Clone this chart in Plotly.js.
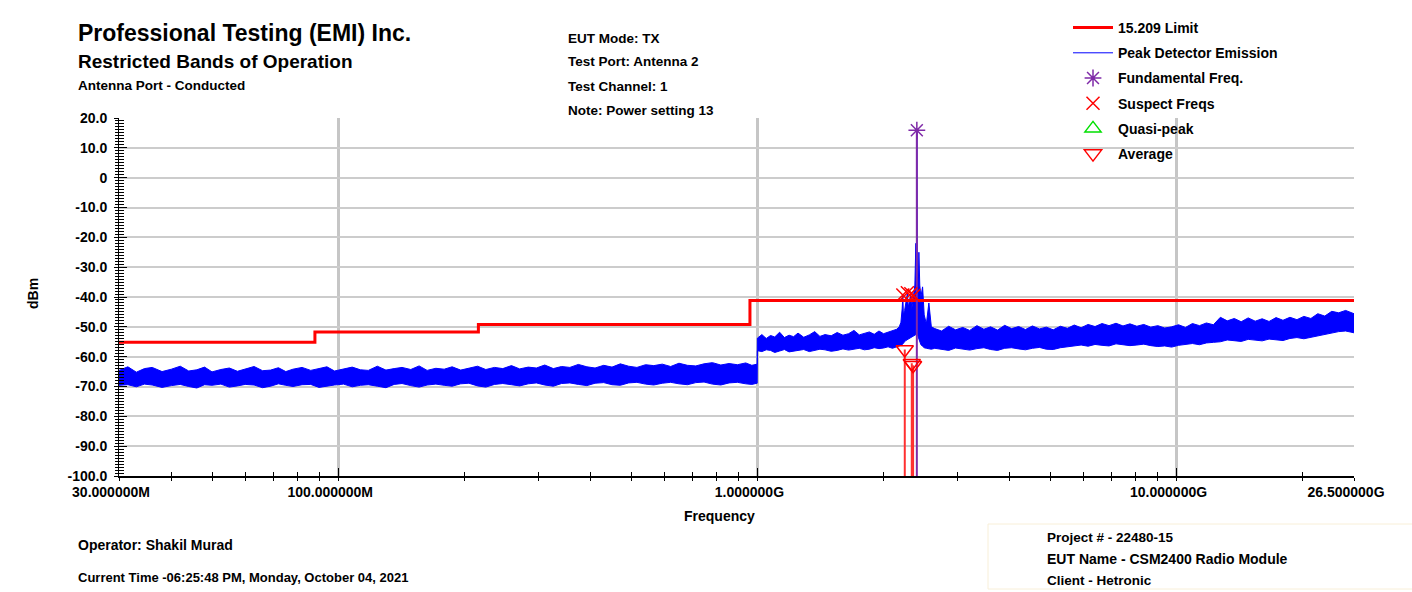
<!DOCTYPE html>
<html><head><meta charset="utf-8">
<script src="https://cdn.plot.ly/plotly-3.0.1.min.js"></script>
<style>html,body{margin:0;padding:0;background:#fff}#chart{width:1412px;height:592px}</style>
</head><body><div id="chart"></div>
<script>
// ---------------- DATA ----------------
// Peak detector trace, read as an upper / lower envelope of the noise band (frequency in MHz, level in dBm)
const freqBelow1G = [30,31.5,33,34.5,36,38,40,42,44,46,48,50,52.5,55,57.5,60,63,66,69,72,75,78,82,86,90,94,98,103,108,113,118,124,130,136,142,149,156,163,171,179,187,196,205,215,225,236,247,259,271,284,297,311,326,341,357,374,392,410,430,450,471,493,516,541,566,593,621,650,681,713,746,781,818,856,896,938,970,999];
const hiBelow1G = [-64.6,-63.4,-65.2,-64.0,-63.6,-65.0,-64.2,-63.2,-64.8,-64.4,-63.5,-65.1,-64.3,-63.8,-64.9,-64.1,-63.3,-64.7,-64.5,-63.7,-65.0,-64.2,-63.6,-64.6,-64.0,-63.4,-64.8,-64.2,-63.5,-64.4,-64.6,-63.2,-64.5,-64.0,-63.6,-64.3,-63.1,-64.6,-63.9,-64.2,-63.4,-64.5,-63.8,-63.2,-64.3,-63.6,-64.0,-63.0,-64.1,-63.5,-63.8,-62.8,-64.0,-63.3,-63.6,-62.6,-63.4,-63.8,-62.9,-63.5,-62.4,-63.2,-63.6,-62.7,-63.0,-62.5,-63.3,-62.2,-62.9,-63.1,-62.4,-62.0,-62.8,-62.3,-62.7,-62.1,-62.9,-62.5];
const loBelow1G = [-69.6,-69.4,-70.1,-69.2,-69.5,-70.3,-69.7,-69.3,-70.0,-70.5,-69.4,-69.6,-69.2,-70.2,-69.8,-69.3,-69.5,-70.4,-69.9,-69.1,-69.6,-70.0,-69.4,-69.3,-70.3,-69.8,-69.5,-69.2,-70.1,-69.6,-69.4,-69.9,-70.4,-69.3,-69.0,-69.7,-70.2,-69.5,-69.2,-69.6,-69.9,-69.1,-68.9,-69.8,-70.2,-69.3,-69.0,-69.4,-69.8,-69.1,-68.8,-69.5,-69.9,-69.0,-68.8,-69.3,-69.7,-68.9,-68.7,-69.4,-69.6,-68.8,-68.6,-69.2,-69.5,-68.9,-68.6,-69.1,-69.4,-68.7,-68.5,-69.2,-69.5,-68.8,-68.6,-69.1,-69.3,-68.9];

const freq1to2G = [1000,1025,1050,1075,1100,1130,1160,1190,1220,1250,1290,1330,1370,1410,1450,1500,1550,1600,1650,1700,1750,1800,1850,1900,1950,2000,2050,2100,2150];
const hi1to2G = [-53.8,-52.6,-53.9,-52.9,-53.4,-51.8,-53.6,-52.8,-53.3,-52.1,-53.5,-52.7,-51.6,-53.2,-52.6,-53.0,-51.9,-52.8,-52.3,-51.2,-52.7,-52.2,-51.7,-52.5,-51.4,-52.3,-51.8,-51.1,-50.8];
const lo1to2G = [-58.0,-58.3,-57.7,-57.9,-58.6,-58.1,-57.6,-58.4,-58.2,-57.8,-57.6,-58.3,-58.0,-57.5,-57.7,-58.2,-57.9,-57.4,-57.8,-57.6,-57.2,-57.7,-57.5,-57.0,-57.3,-57.1,-56.7,-57.2,-56.8];

const freqCarrier = [2180,2200,2215,2223,2230,2245,2260,2279,2290,2305,2323,2335,2350,2362,2375,2388,2395,2401,2408,2420,2428,2440,2455,2478,2500,2530,2565,2600];
const hiCarrier = [-50.0,-48.5,-44.0,-39.5,-46.0,-44.5,-42.0,-38.8,-43.5,-41.0,-39.0,-44.0,-41.0,-39.5,-36.0,-22.0,-34.0,15.5,-33.0,-38.0,-25.0,-36.0,-40.0,-36.6,-46.0,-49.0,-42.0,-50.0];
const loCarrier = [-56.5,-56.2,-56.0,-55.6,-55.4,-55.0,-54.6,-54.3,-54.0,-53.8,-53.6,-53.4,-53.2,-53.0,-52.8,-52.6,-52.4,-52.4,-52.6,-53.5,-54.5,-55.5,-56.0,-56.5,-57.0,-57.2,-57.4,-57.5];

const freqAbove = [2650,2750,2860,2970,3090,3210,3340,3470,3600,3740,3890,4040,4200,4360,4530,4710,4890,5080,5280,5490,5700,5920,6150,6390,6640,6900,7170,7450,7740,8040,8350,8680,9020,9370,9730,10110,10500,10910,11340,11780,12240,12720,13210,13730,14260,14820,15400,16000,16620,17270,17940,18640,19370,20120,20910,21720,22570,23450,24360,25310,26500];
const hiAbove = [-50.6,-51.4,-49.8,-51.0,-50.2,-51.2,-49.6,-50.8,-50.0,-51.1,-49.5,-50.6,-49.9,-50.9,-49.7,-50.7,-50.1,-51.0,-49.8,-50.5,-49.4,-50.3,-49.2,-49.9,-48.9,-49.6,-48.8,-49.7,-49.0,-49.8,-49.2,-50.1,-49.6,-50.4,-50.0,-49.3,-50.2,-48.9,-49.6,-48.7,-49.3,-46.8,-48.0,-47.2,-48.3,-47.0,-48.1,-47.3,-48.2,-46.9,-47.8,-46.8,-47.6,-46.5,-47.2,-45.6,-46.4,-44.8,-45.3,-44.5,-45.6];
const loAbove = [-57.2,-57.5,-57.9,-57.1,-57.4,-57.8,-57.3,-57.0,-57.6,-57.9,-57.2,-57.0,-57.4,-57.7,-57.2,-56.9,-57.5,-57.6,-57.0,-56.7,-56.4,-56.1,-56.5,-55.9,-56.2,-56.4,-55.7,-55.9,-56.3,-56.1,-55.8,-56.3,-56.6,-56.4,-56.8,-56.2,-55.8,-55.6,-56.0,-55.4,-55.2,-55.0,-54.4,-54.6,-54.9,-54.2,-54.4,-54.7,-54.1,-54.3,-54.6,-53.9,-53.6,-54.0,-53.5,-52.9,-52.6,-52.0,-51.6,-51.4,-52.0];

// 15.209 limit: band edges (MHz) and level per band (dBm)
const limitEdgesMHz = [30, 88, 216, 960, 26500];
const limitLevels = [-55.2, -51.7, -49.2, -41.2];

// markers
const fundFreq = [2401], fundLevel = [15.9];
const suspectFreq = [2223, 2279, 2323, 2362], suspectLevel = [-39.3, -38.6, -38.9, -39.5];
const qpFreq = [], qpLevel = [];
const avgFreq = [2247, 2335, 2352], avgLevel = [-57.6, -62.2, -62.9];
const floorLevel = -100;

// axes
const xTickVals = [30, 100, 1000, 10000, 26500];
const xTickText = ['30.000000M', '100.000000M', '1.000000G', '10.000000G', '26.500000G'];
const xMinorVals = [40,50,60,70,80,90,200,300,400,500,600,700,800,900,2000,3000,4000,5000,6000,7000,8000,9000,20000];
const yTickVals = [20,10,0,-10,-20,-30,-40,-50,-60,-70,-80,-90,-100];
const yTickText = ['20.0','10.0','0','-10.0','-20.0','-30.0','-40.0','-50.0','-60.0','-70.0','-80.0','-90.0','-100.0'];

// texts
const headerLines = ['Professional Testing (EMI) Inc.', 'Restricted Bands of Operation', 'Antenna Port - Conducted'];
const testLines = ['EUT Mode: TX', 'Test Port: Antenna 2', 'Test Channel: 1', 'Note: Power setting 13'];
const operatorLines = ['Operator: Shakil Murad', 'Current Time -06:25:48 PM, Monday, October 04, 2021'];
const projectLines = ['Project # - 22480-15', 'EUT Name - CSM2400 Radio Module', 'Client - Hetronic'];

// ---------------- BUILD ----------------
const freqAll = freqBelow1G.concat(freq1to2G, freqCarrier, freqAbove);
const hiAll = hiBelow1G.concat(hi1to2G, hiCarrier, hiAbove);
const loAll = loBelow1G.concat(lo1to2G, loCarrier, loAbove);

const FONT = 'Arial, "Liberation Sans", sans-serif';
const BLUE = '#0000ff', RED = '#ff0000', PURPLE = '#7f2aa8';

function stems(fs, vs) {
  const x = [], y = [];
  fs.forEach((f, i) => { x.push(f, f, null); y.push(vs[i], floorLevel, null); });
  return {x, y};
}
const avgStems = stems(avgFreq, avgLevel);
const fundStems = stems(fundFreq, fundLevel);

const traces = [
  {x: freqAll, y: loAll, mode: 'lines', line: {color: BLUE, width: 1}, showlegend: false, hoverinfo: 'skip'},
  {x: freqAll, y: hiAll, mode: 'lines', line: {color: BLUE, width: 1}, fill: 'tonexty', fillcolor: BLUE, showlegend: false, hoverinfo: 'skip'},
  {x: limitEdgesMHz, y: limitLevels.concat([limitLevels[limitLevels.length - 1]]), mode: 'lines', line: {color: RED, width: 3, shape: 'hv'}, name: '15.209 Limit', legendgroup: 'g1'},
  {x: [null], y: [null], mode: 'lines', line: {color: BLUE, width: 1}, name: 'Peak Detector Emission', legendgroup: 'g2'},
  {x: fundStems.x, y: fundStems.y, mode: 'lines', line: {color: PURPLE, width: 2}, showlegend: false, hoverinfo: 'skip'},
  {x: avgStems.x, y: avgStems.y, mode: 'lines', line: {color: '#ff3030', width: 2}, showlegend: false, hoverinfo: 'skip'},
  {x: fundFreq, y: fundLevel, mode: 'markers', marker: {symbol: 'asterisk-open', size: 14, color: PURPLE, line: {color: PURPLE, width: 1.5}}, name: 'Fundamental Freq.', legendgroup: 'g3'},
  {x: suspectFreq, y: suspectLevel, mode: 'markers', marker: {symbol: 'x-thin-open', size: 13, color: RED, line: {color: RED, width: 1.5}}, name: 'Suspect Freqs', legendgroup: 'g4'},
  {x: qpFreq.length ? qpFreq : [null], y: qpLevel.length ? qpLevel : [null], mode: 'markers', marker: {symbol: 'triangle-up-open', size: 14, color: '#00e000', line: {color: '#00e000', width: 1.5}}, name: 'Quasi-peak', legendgroup: 'g5'},
  {x: avgFreq, y: avgLevel, mode: 'markers', marker: {symbol: 'triangle-down-open', size: 15, color: RED, line: {color: RED, width: 1.5}}, name: 'Average', legendgroup: 'g6'},
  {x: [null], y: [null], xaxis: 'x2', yaxis: 'y2', mode: 'markers', showlegend: false, hoverinfo: 'skip'}
];

const L = 119, R = 1354, T = 118, B = 476;
const ax = px => (px - L) / (R - L);
const ay = py => (B - py) / (B - T);
function txt(text, px, py, size, extra) {
  return Object.assign({text: text, x: ax(px), y: ay(py), xref: 'paper', yref: 'paper', xanchor: 'left', yanchor: 'middle', showarrow: false,
    font: {family: FONT, size: size, color: '#000', weight: 'bold'}}, extra || {});
}
const annotations = [
  txt(headerLines[0], 76, 33, 23),
  txt(headerLines[1], 76, 62, 19),
  txt(headerLines[2], 76, 85, 13.5),
  txt(testLines[0], 566, 38, 13.5), txt(testLines[1], 566, 62, 13.5), txt(testLines[2], 566, 86, 13.5), txt(testLines[3], 566, 110, 13.5),
  txt(operatorLines[0], 76, 545, 14), txt(operatorLines[1], 76, 577, 13),
  txt(projectLines[0], 1045, 537, 13.5), txt(projectLines[1], 1045, 559, 14), txt(projectLines[2], 1045, 580, 13.5),
  txt('Frequency', 719, 516, 14, {xanchor: 'center'}),
  txt('dBm', 33, 294, 14, {xanchor: 'center', textangle: -90})
];

const tickFont = {family: FONT, size: 14, color: '#000', weight: 'bold'};
const xRange = [Math.log10(limitEdgesMHz[0]), Math.log10(limitEdgesMHz[limitEdgesMHz.length - 1])];
const layout = {
  width: 1412, height: 592,
  margin: {l: L, r: 1412 - R, t: T, b: 592 - B, pad: 0, autoexpand: false},
  paper_bgcolor: '#fff', plot_bgcolor: '#fff',
  showlegend: true,
  legend: {xref: 'container', yref: 'container', x: 1068 / 1412, y: 1 - 12 / 592, xanchor: 'left', yanchor: 'top',
    traceorder: 'grouped', tracegroupgap: 4,
    bgcolor: 'rgba(0,0,0,0)', borderwidth: 0, itemwidth: 40, font: {family: FONT, size: 14, color: '#000', weight: 'bold'}},
  xaxis: {type: 'log', range: xRange, tickmode: 'array', tickvals: xTickVals, ticktext: xTickText, tickfont: tickFont,
    ticks: 'outside', ticklen: 3, tickcolor: '#000', tickwidth: 1, ticklabelshift: -8, automargin: false,
    showline: true, linecolor: '#000', linewidth: 1.5, showgrid: true, gridcolor: '#c6c6c6', gridwidth: 3, zeroline: false,
    minor: {tickmode: 'array', tickvals: xMinorVals, ticks: 'outside', ticklen: 3, tickcolor: '#000', showgrid: false}},
  xaxis2: {type: 'log', range: xRange, overlaying: 'x', anchor: 'y', side: 'bottom', tickmode: 'array', tickvals: xTickVals.slice(1, 4),
    ticks: 'inside', ticklen: 8, tickcolor: '#000', showticklabels: false, showgrid: false, showline: false, zeroline: false,
    minor: {tickmode: 'array', tickvals: xMinorVals, ticks: 'inside', ticklen: 4, tickcolor: '#000', showgrid: false}},
  yaxis: {range: [-100, 20], tickmode: 'array', tickvals: yTickVals, ticktext: yTickText, tickfont: tickFont,
    ticks: 'outside', ticklen: 4, tickcolor: '#000', ticklabelstandoff: 4, automargin: false,
    showline: true, linecolor: '#000', linewidth: 1, showgrid: true, gridcolor: '#cccccc', gridwidth: 2, zeroline: false,
    minor: {dtick: 1, ticks: 'outside', ticklen: 3, tickcolor: '#000', showgrid: false}},
  yaxis2: {range: [-100, 20], overlaying: 'y', anchor: 'x', side: 'left', tickmode: 'array', tickvals: yTickVals,
    ticks: 'inside', ticklen: 8, tickcolor: '#000', showticklabels: false, showgrid: false, showline: false, zeroline: false,
    minor: {dtick: 1, ticks: 'inside', ticklen: 5, tickcolor: '#000', showgrid: false}},
  shapes: [
    {type: 'rect', xref: 'paper', yref: 'paper', x0: ax(1058), x1: ax(1350), y0: ay(163), y1: ay(112), fillcolor: '#fff', line: {width: 0}, layer: 'between'},
    {type: 'rect', xref: 'paper', yref: 'paper', x0: ax(988), x1: ax(1430), y0: ay(589), y1: ay(524), fillcolor: 'rgba(0,0,0,0)', line: {color: '#f8efd8', width: 1}}
  ],
  annotations: annotations
};

Plotly.newPlot('chart', traces, layout, {displayModeBar: false, staticPlot: true});
</script>
</body></html>
